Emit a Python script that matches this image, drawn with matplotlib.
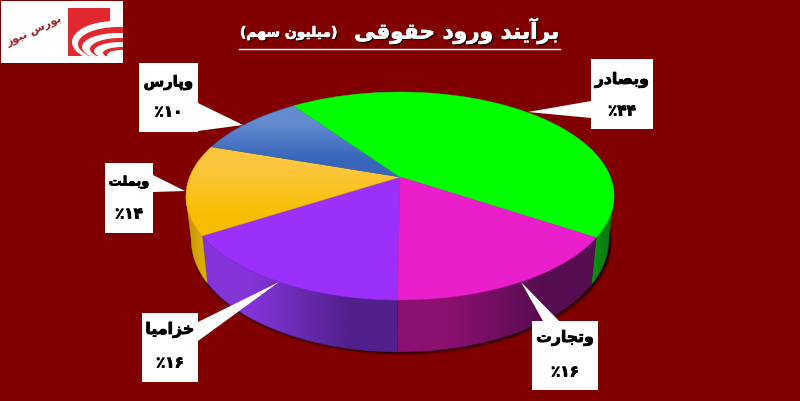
import numpy as np
import matplotlib
matplotlib.use("Agg")
import matplotlib.pyplot as plt
from matplotlib.patches import Polygon, Rectangle, Ellipse
import matplotlib.patheffects as pe

names = ["وبصادر", "وتجارت", "خزامیا", "وبملت", "وپارس"]
values = [44, 16, 16, 14, 10]
title_main = "برآیند ورود حقوقی"
title_unit = "(میلیون سهم)"
logo_text = "بورس نیوز"

# گوشه های جعبه برچسب ها و نوک فلش ها (پیکسل)
boxes = [(591, 59, 653, 129), (532, 321, 598, 390), (142, 313, 198, 382), (105, 163, 153, 233), (139, 63, 198, 132)]
tips = [(528, 112), (521, 282), (279, 282), (185, 191), (243, 125)]
bases = [[(591, 101), (591, 118)], [(543, 321), (559, 321)], [(198, 322), (198, 341)], [(153, 175), (153, 192)], [(198, 103), (198, 131)]]
name_y = [80, 338, 330, 182, 83]
pct_y = [111, 372, 363, 214, 112]
name_size = [11.3, 11.3, 11.4, 9.3, 10.7]

top_colors = [("#00ff00", "#00ff00"), ("#ea1ecb", "#ea1ecb"), ("#9c30fb", "#9c30fb"), ("#fcc63c", "#f7be00"), ("#648ad0", "#3766ba")]
side_colors = [("#0a8c12", "#0a7a10"), ("#8c1070", "#560c50"), ("#8434d8", "#52208c"), ("#c89a08", "#dcae00"), ("#3f6fbd", "#3f6fbd")]

BG = "#800000"
LOGO_RED = "#e1282e"
CX, CY = 400, 177
A, B, K = 210.4, 100.5, 0.183
DEPTH = 42.5

# فرم های حروف: تنها، پایانی، آغازی، میانی
FORMS = {
    "ا": (0xFE8D, 0xFE8E), "آ": (0xFE81, 0xFE82), "د": (0xFEA9, 0xFEAA), "ر": (0xFEAD, 0xFEAE),
    "ز": (0xFEAF, 0xFEB0), "و": (0xFEED, 0xFEEE),
    "ب": (0xFE8F, 0xFE90, 0xFE91, 0xFE92), "پ": (0xFB56, 0xFB57, 0xFB58, 0xFB59),
    "ت": (0xFE95, 0xFE96, 0xFE97, 0xFE98), "ج": (0xFE9D, 0xFE9E, 0xFE9F, 0xFEA0),
    "ح": (0xFEA1, 0xFEA2, 0xFEA3, 0xFEA4), "خ": (0xFEA5, 0xFEA6, 0xFEA7, 0xFEA8),
    "س": (0xFEB1, 0xFEB2, 0xFEB3, 0xFEB4), "ص": (0xFEB9, 0xFEBA, 0xFEBB, 0xFEBC),
    "ق": (0xFED5, 0xFED6, 0xFED7, 0xFED8), "ل": (0xFEDD, 0xFEDE, 0xFEDF, 0xFEE0),
    "م": (0xFEE1, 0xFEE2, 0xFEE3, 0xFEE4), "ن": (0xFEE5, 0xFEE6, 0xFEE7, 0xFEE8),
    "ه": (0xFEE9, 0xFEEA, 0xFEEB, 0xFEEC), "ی": (0xFBFC, 0xFBFD, 0xFBFE, 0xFBFF),
}
MIRROR = {"(": ")", ")": "("}


def shape(text):
    # matplotlib حروف فارسی را نمی چسباند و راست به چپ نمی نویسد
    out = []
    for i, ch in enumerate(text):
        if ch not in FORMS:
            out.append(MIRROR.get(ch, ch))
            continue
        prev = text[i - 1] if i > 0 else " "
        nxt = text[i + 1] if i + 1 < len(text) else " "
        after_joiner = prev in FORMS and len(FORMS[prev]) == 4
        before_joiner = nxt in FORMS and len(FORMS[ch]) == 4
        if after_joiner and before_joiner:
            code = FORMS[ch][3]
        elif before_joiner:
            code = FORMS[ch][2]
        elif after_joiner:
            code = FORMS[ch][1]
        else:
            code = FORMS[ch][0]
        out.append(chr(code))
    return "".join(out[::-1])


def fa_digits(n):
    return str(n).translate(str.maketrans("0123456789", "۰۱۲۳۴۵۶۷۸۹"))


def project(t, drop=0.0):
    # دایره با پرسپکتیو: دیواره پایین کمی جمع تر است
    u, v = np.cos(t), np.sin(t)
    w = 1 + K * v
    return np.column_stack([CX + A * u / w * (1 - 0.025 * drop), CY - B * v / w + drop * DEPTH / w])


def grad_fill(ax, verts, c0, c1, vertical=True, zorder=3):
    poly = Polygon(verts, closed=True, fc="none", ec="none", zorder=zorder)
    ax.add_patch(poly)
    rgb = np.array([matplotlib.colors.to_rgb(c0), matplotlib.colors.to_rgb(c1)])
    img = rgb[:, None, :] if vertical else rgb[None, :, :]
    x0, y0 = verts.min(axis=0)
    x1, y1 = verts.max(axis=0)
    im = ax.imshow(img, extent=(x0, x1, y1, y0), aspect="auto", interpolation="bilinear", zorder=zorder)
    im.set_clip_path(poly)
    # لبه نازک برای پوشاندن درز بین برش ها
    ax.add_patch(Polygon(verts, closed=True, fc="none", ec=c1, lw=0.3, zorder=zorder))


fig = plt.figure(figsize=(8, 4.01), dpi=100, facecolor=BG)
ax = fig.add_axes([0, 0, 1, 1])
ax.set_facecolor(BG)

plt.rcParams["font.family"] = "DejaVu Sans"

# زاویه برش ها: از پایین دایره ساعتگرد، اول خزامیا
fracs = np.array(values) / sum(values)
starts = {}
ang = np.radians(269.5)
for i in [2, 3, 4, 0, 1]:
    starts[i] = (ang, ang - fracs[i] * 2 * np.pi)
    ang = starts[i][1]

t_right = np.arcsin(-K)
t_left = np.pi - t_right

# سایه باریک زیر کیک، کمی به راست
full = np.linspace(0, 2 * np.pi, 200)
for grow, alpha in zip([3.0, 2.0, 1.0], [0.15, 0.3, 0.5]):
    pts = project(full, 1.0)
    pts[:, 0] = CX + (pts[:, 0] - CX) * (1 + grow / 300) + 1.5
    pts[:, 1] += grow
    ax.add_patch(Polygon(pts, closed=True, fc="k", ec="none", alpha=alpha, zorder=1))

# دیواره ها
for i in starts:
    a0, a1 = starts[i]
    lo, hi = min(a0, a1), max(a0, a1)
    for shift in (0, -2 * np.pi, 2 * np.pi):
        # بازه دیده شدنی دیواره: از t_left تا 2pi + t_right
        s = max(lo + shift, t_left)
        e = min(hi + shift, 2 * np.pi + t_right)
        if e > s:
            tt = np.linspace(s, e, 60)
            verts = np.vstack([project(tt), project(tt[::-1], 1.0)])
            grad_fill(ax, verts, side_colors[i][0], side_colors[i][1], vertical=False, zorder=2)

# سطح بالا
for i in starts:
    a0, a1 = starts[i]
    tt = np.linspace(a0, a1, 80)
    verts = np.vstack([[[CX, CY]], project(tt)])
    grad_fill(ax, verts, top_colors[i][0], top_colors[i][1], zorder=3)

# برچسب ها
bold_k = [pe.withStroke(linewidth=0.6, foreground="k")]
for i, name in enumerate(names):
    x0, y0, x1, y1 = boxes[i]
    ax.add_patch(Polygon([tips[i], bases[i][0], bases[i][1]], closed=True, fc="white", ec="none", zorder=4))
    ax.add_patch(Rectangle((x0, y0), x1 - x0, y1 - y0, fc="white", ec="none", zorder=5))
    xm = (x0 + x1) / 2
    ax.text(xm, name_y[i], shape(name), ha="center", va="center", fontsize=name_size[i], fontweight="bold", color="k", path_effects=bold_k, zorder=6)
    ax.text(xm, pct_y[i], "٪" + fa_digits(values[i]), ha="center", va="center", fontsize=11, fontweight="bold", color="k", path_effects=bold_k, zorder=6)

# عنوان
shadow = [pe.SimplePatchShadow(offset=(1, -1), shadow_rgbFace="k", alpha=0.9), pe.Stroke(linewidth=0.5, foreground="white"), pe.Normal()]
ax.text(559, 31, shape(title_main), ha="right", va="center", fontsize=15.6, fontweight="bold", color="white", path_effects=shadow, zorder=6)
ax.text(240, 33, shape(title_unit), ha="left", va="center", fontsize=10, fontweight="bold", color="white", path_effects=shadow, zorder=6)
ax.plot([239, 560], [48.5, 48.5], color="white", lw=1, zorder=6)

# لوگو
ax.add_patch(Rectangle((1, 1), 122, 62, fc="white", ec="none", zorder=5))
ax.add_patch(Rectangle((68, 8), 42, 48, fc=LOGO_RED, ec="none", zorder=6))
logo_clip = Rectangle((68, 8), 55, 48, transform=ax.transData)
arc_centers = [(115, 42), (118, 44), (118, 47), (120, 49), (121, 51), (122, 53), (122, 55)]
arc_sizes = [(86, 42), (80, 34), (72, 28), (60, 22), (54, 18), (38, 12), (30, 10)]
for n, (c, s) in enumerate(zip(arc_centers, arc_sizes)):
    arc = Ellipse(c, s[0], s[1], fc="white" if n % 2 == 0 else LOGO_RED, ec="none", zorder=7 + n)
    ax.add_patch(arc)
    arc.set_clip_path(logo_clip)
ax.text(35, 32, shape(logo_text), ha="center", va="center", fontsize=8.2, fontweight="bold", color="#9c2024", rotation=25, zorder=6)

ax.set_xlim(0, 800)
ax.set_ylim(401, 0)
ax.axis("off")
fig.savefig("out.png", dpi=100, facecolor=BG)
